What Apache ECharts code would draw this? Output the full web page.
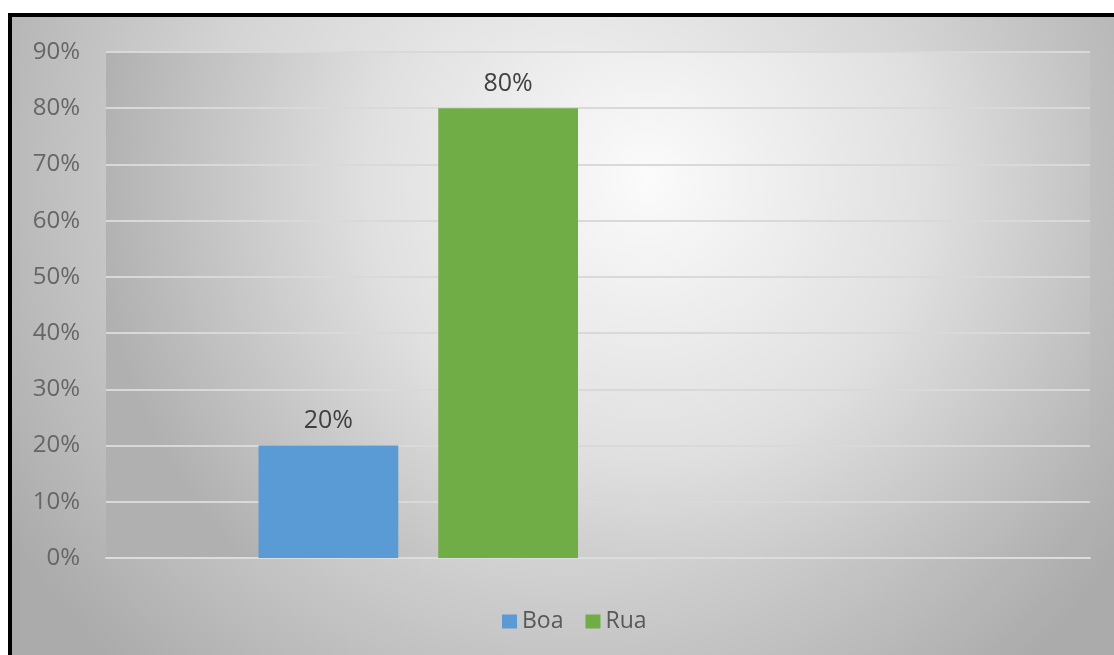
<!DOCTYPE html>
<html>
<head>
<meta charset="utf-8">
<script src="https://cdn.jsdelivr.net/npm/echarts@6/dist/echarts.min.js"></script>
<style>
html,body{margin:0;padding:0;background:#fff;}
#c{width:1114px;height:655px;}
</style>
</head>
<body>
<div id="c"></div>
<script>
var categories = [''];
var boaValues = [0.2];
var ruaValues = [0.8];
var emptyA = [null];
var emptyB = [null];
var seriesNames = ['Boa', 'Rua'];
var yTicks = ['0%','10%','20%','30%','40%','50%','60%','70%','80%','90%'];

var chart = echarts.init(document.getElementById('c'));
var FONT = 'Open Sans';
var labelCfg = {
  show: true, position: 'top', distance: 12,
  color: '#404040', fontFamily: FONT, fontSize: 25,
  formatter: function (p) { return Math.round(p.value * 100) + '%'; }
};
chart.setOption({
  backgroundColor: '#ffffff',
  animation: false,
  graphic: [{
    type: 'rect', z: -10, silent: true,
    shape: { x: 10, y: 15, width: 1120, height: 660 },
    style: {
      stroke: '#000', lineWidth: 4,
      fill: { type: 'radial', x: 0.5, y: 0.25, r: 1.0, colorStops: [
        { offset: 0, color: '#f6f6f6' },
        { offset: 0.55, color: '#d4d4d4' },
        { offset: 1, color: '#ababab' }] }
    }
  }],
  grid: {
    left: 106, right: 24, top: 52, bottom: 97, show: true, borderWidth: 0,
    backgroundColor: { type: 'radial', x: 0.55, y: 0.25, r: 1.1, colorStops: [
      { offset: 0, color: '#fbfbfb' },
      { offset: 0.5, color: '#e0e0e0' },
      { offset: 1, color: '#b0b0b0' }] }
  },
  legend: {
    data: seriesNames, left: 497, top: 605, itemWidth: 15, itemHeight: 14, itemGap: 22,
    icon: 'rect',
    textStyle: { color: '#595959', fontFamily: FONT, fontSize: 23 }
  },
  xAxis: {
    type: 'category', data: categories,
    axisLine: { show: true, lineStyle: { color: '#dcdcdc', width: 2 } },
    axisTick: { show: false }, axisLabel: { show: false }
  },
  yAxis: {
    type: 'value', min: 0, max: 0.9, interval: 0.1,
    axisLine: { show: false }, axisTick: { show: false },
    axisLabel: {
      margin: 26, color: '#666666', fontFamily: FONT, fontSize: 24,
      formatter: function (v) { return yTicks[Math.round(v * 10)]; }
    },
    splitLine: { lineStyle: { color: '#d9d9d9', width: 2 } }
  },
  series: [
    { name: 'Boa', type: 'bar', data: boaValues, itemStyle: { color: '#5b9bd5' },
      barCategoryGap: '31%', barGap: '28.6%', label: labelCfg },
    { name: 'Rua', type: 'bar', data: ruaValues, itemStyle: { color: '#70ad47' },
      barCategoryGap: '31%', barGap: '28.6%', label: labelCfg },
    { name: 'S3', type: 'bar', data: emptyA, barCategoryGap: '31%', barGap: '28.6%' },
    { name: 'S4', type: 'bar', data: emptyB, barCategoryGap: '31%', barGap: '28.6%' }
  ]
});
</script>
</body>
</html>
